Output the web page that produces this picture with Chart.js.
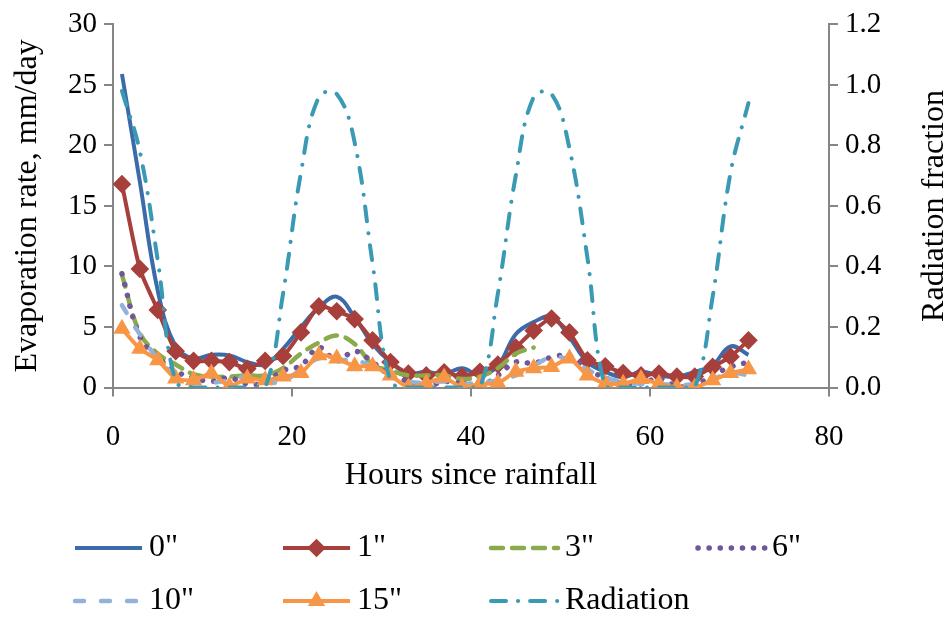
<!DOCTYPE html>
<html lang="en">
<head>
<meta charset="UTF-8" />
<title>Evaporation rate and radiation fraction</title>
<style>
  body { margin: 0; background: #ffffff; }
  #wrap { width: 951px; height: 617px; }
</style>
<script src="https://cdn.jsdelivr.net/npm/chart.js"></script>
</head>
<body>
<div id="wrap"><canvas id="evapChart" width="951" height="617"></canvas></div>
<script>
// hours since rainfall (one reading every 2 h)
const hours = [1, 3, 5, 7, 9, 11, 13, 15, 17, 19, 21, 23, 25, 27, 29, 31, 33, 35,
               37, 39, 41, 43, 45, 47, 49, 51, 53, 55, 57, 59, 61, 63, 65, 67, 69, 71];

// evaporation rate, mm/day, by depth
const depth0 = [25.9, 17.0, 8.0, 3.4, 2.4, 2.7, 2.65, 2.1, 1.9, 3.2, 5.0, 6.6, 7.5, 5.8, 3.6, 2.1, 1.15, 1.3,
                1.1, 1.6, 1.0, 1.8, 4.4, 5.4, 5.85, 4.15, 2.1, 1.3, 0.85, 1.3, 1.0, 0.9, 1.3, 1.85, 3.4, 2.7];
const depth1 = [16.8, 9.8, 6.4, 3.0, 2.2, 2.2, 2.1, 1.55, 2.2, 2.6, 4.55, 6.7, 6.3, 5.65, 3.9, 2.1, 1.15, 1.0,
                1.25, 0.9, 1.3, 1.9, 3.3, 4.7, 5.7, 4.55, 2.25, 1.75, 1.2, 1.0, 1.15, 0.9, 0.9, 1.7, 2.55, 3.9];
const depth3 = [9.3, 4.5, 2.8, 1.9, 1.1, 0.9, 0.9, 1.0, 1.0, 1.6, 2.8, 3.7, 4.3, 3.6, 1.9, 1.4, 1.0, 1.0,
                1.0, 0.7, 0.9, 1.6, 2.8, 3.3];
const depth6 = [9.4, 4.2, 2.5, 1.35, 0.8, 0.5, 0.8, 0.3, 0.4, 1.4, 1.8, 3.3, 2.2, 3.0, 2.1, 1.0, 0.5, 0.1,
                0.5, 0.3, 0.1, 1.0, 2.1, 2.0, 2.5, 2.6, 1.5, 0.8, 0.3, 0.3, 0.75, 0.1, 0.2, 1.0, 1.7, 2.1];
const depth10 = [6.8, 4.4, 2.4, 1.0, 0.5, 0.4, 0.6, 0.9, 0.5, 0.5, 1.5, 2.4, 2.3, 2.2, 1.8, 1.0, 0.5, 0.4,
                 0.5, 0.3, 0.4, 0.6, 1.0, 1.8, 2.5, 2.3, 1.5, 0.8, 0.5, 0.3, 0.3, 0.2, 0.3, 0.7, 1.2, 1.0];
const depth15 = [4.85, 3.2, 2.25, 0.75, 0.6, 1.16, 0.1, 0.75, 0.6, 0.9, 1.2, 2.66, 2.4, 1.76, 1.76, 1.0, 0.0, 0.34,
                 0.83, 0.0, 0.3, 0.36, 1.3, 1.6, 1.7, 2.4, 1.0, 0.34, 0.3, 0.7, 0.3, 0.0, 0.0, 0.6, 1.2, 1.5];

// radiation fraction (right axis)
const radiation = [0.98, 0.78, 0.42, 0.02, 0, 0, 0, 0, 0, 0.31, 0.71, 0.96, 0.97, 0.81, 0.41, 0.02, 0, 0,
                   0, 0, 0, 0.31, 0.70, 0.96, 0.97, 0.79, 0.43, 0.0, 0, 0, 0, 0, 0, 0.30, 0.71, 0.94];

const serif = "'Liberation Serif', 'Times New Roman', serif";
Chart.defaults.font.family = serif;
Chart.defaults.color = "#000000";

function points(vals) {
  return vals.map((v, i) => ({ x: hours[i], y: v }));
}

const axisGray = "#868686";

// legend drawn on the canvas, 4 columns x 2 rows like the original
const legendCols = [75, 283, 491, 698];
const legendRows = [548, 601];

const gridLegend = {
  id: "gridLegend",
  afterDraw(chart) {
    const ctx = chart.ctx;
    chart.data.datasets.forEach((ds, i) => {
      const x = legendCols[i % 4];
      const y = legendRows[Math.floor(i / 4)];
      ctx.save();
      ctx.strokeStyle = ds.borderColor;
      ctx.lineWidth = ds.borderWidth;
      ctx.lineCap = ds.borderCapStyle || "butt";
      ctx.setLineDash(ds.borderDash || []);
      ctx.beginPath();
      ctx.moveTo(x, y);
      ctx.lineTo(x + 67, y);
      ctx.stroke();
      ctx.setLineDash([]);
      if (ds.pointRadius > 0) {
        ctx.fillStyle = ds.pointBackgroundColor;
        ctx.strokeStyle = ds.pointBorderColor;
        Chart.helpers.drawPoint(ctx, {
          pointStyle: ds.pointStyle, radius: ds.pointRadius, rotation: 0, borderWidth: 1
        }, x + 33.5, y);
      }
      ctx.fillStyle = "#000000";
      ctx.font = "32px " + serif;
      ctx.textBaseline = "middle";
      ctx.textAlign = "left";
      ctx.fillText(ds.label, x + 74, y);
      ctx.restore();
    });

    // secondary axis title, reading bottom to top
    ctx.save();
    ctx.translate(935, (chart.chartArea.top + chart.chartArea.bottom) / 2);
    ctx.rotate(-Math.PI / 2);
    ctx.font = "32px " + serif;
    ctx.fillStyle = "#000000";
    ctx.textAlign = "center";
    ctx.textBaseline = "middle";
    ctx.fillText("Radiation fraction", 0, 0);
    ctx.restore();
  }
};

new Chart(document.getElementById("evapChart").getContext("2d"), {
  type: "line",
  data: {
    datasets: [
      {
        label: "0\"",
        data: points(depth0),
        borderColor: "#3C6BAA",
        borderWidth: 4,
        pointRadius: 0,
        tension: 0.4,
        order: 7
      },
      {
        label: "1\"",
        data: points(depth1),
        borderColor: "#A7403C",
        borderWidth: 4,
        pointStyle: "rectRot",
        pointRadius: 6.5,
        pointBackgroundColor: "#A7403C",
        pointBorderColor: "#A7403C",
        tension: 0.2,
        order: 6
      },
      {
        label: "3\"",
        data: points(depth3),
        borderColor: "#8AAA4B",
        borderWidth: 4.5,
        borderDash: [12, 9],
        borderCapStyle: "round",
        pointRadius: 0,
        tension: 0.4,
        order: 5
      },
      {
        label: "6\"",
        data: points(depth6),
        borderColor: "#70569A",
        borderWidth: 5.5,
        borderDash: [0.1, 11],
        borderCapStyle: "round",
        pointRadius: 0,
        tension: 0.4,
        order: 4
      },
      {
        label: "10\"",
        data: points(depth10),
        borderColor: "#94B2D9",
        borderWidth: 4.5,
        borderDash: [9, 17],
        borderCapStyle: "round",
        pointRadius: 0,
        tension: 0.4,
        order: 3
      },
      {
        label: "15\"",
        data: points(depth15),
        borderColor: "#F79646",
        borderWidth: 4,
        pointStyle: "triangle",
        pointRadius: 6,
        pointBackgroundColor: "#F79646",
        pointBorderColor: "#F79646",
        tension: 0.2,
        order: 2
      },
      {
        label: "Radiation",
        data: points(radiation),
        yAxisID: "y2",
        borderColor: "#3A9AB4",
        borderWidth: 4,
        borderDash: [15, 12, 0.1, 12],
        borderCapStyle: "round",
        pointRadius: 0,
        tension: 0.4,
        order: 1
      }
    ]
  },
  options: {
    responsive: false,
    animation: false,
    layout: { padding: { top: 21, bottom: 99.5, left: 0, right: 0 } },
    plugins: {
      legend: { display: false },
      tooltip: { enabled: false }
    },
    scales: {
      x: {
        type: "linear",
        min: 0,
        max: 80,
        ticks: { stepSize: 20, font: { size: 29 }, padding: 23, color: "#000" },
        grid: { drawOnChartArea: false, tickLength: 9, color: axisGray, lineWidth: 2 },
        border: { color: axisGray, width: 2 },
        title: { display: true, text: "Hours since rainfall", font: { size: 32 }, padding: { top: 0, bottom: 23 } },
        afterFit(scale) { scale.height = 130; }
      },
      y: {
        position: "left",
        min: 0,
        max: 30,
        ticks: { stepSize: 5, font: { size: 29 }, padding: 7, color: "#000" },
        grid: { drawOnChartArea: false, tickLength: 9, color: axisGray, lineWidth: 2 },
        border: { color: axisGray, width: 2 },
        title: { display: true, text: "Evaporation rate, mm/day", font: { size: 32 }, padding: { top: 8, bottom: 0 } },
        afterFit(scale) { scale.width = 113; }
      },
      y2: {
        position: "right",
        min: 0,
        max: 1.2,
        ticks: {
          stepSize: 0.2,
          font: { size: 29 },
          padding: 7,
          color: "#000",
          callback: (v) => v.toFixed(1)
        },
        grid: { drawOnChartArea: false, tickLength: 9, color: axisGray, lineWidth: 2 },
        border: { color: axisGray, width: 2 },
        afterFit(scale) { scale.width = 122; }
      }
    }
  },
  plugins: [gridLegend]
});
</script>
</body>
</html>
